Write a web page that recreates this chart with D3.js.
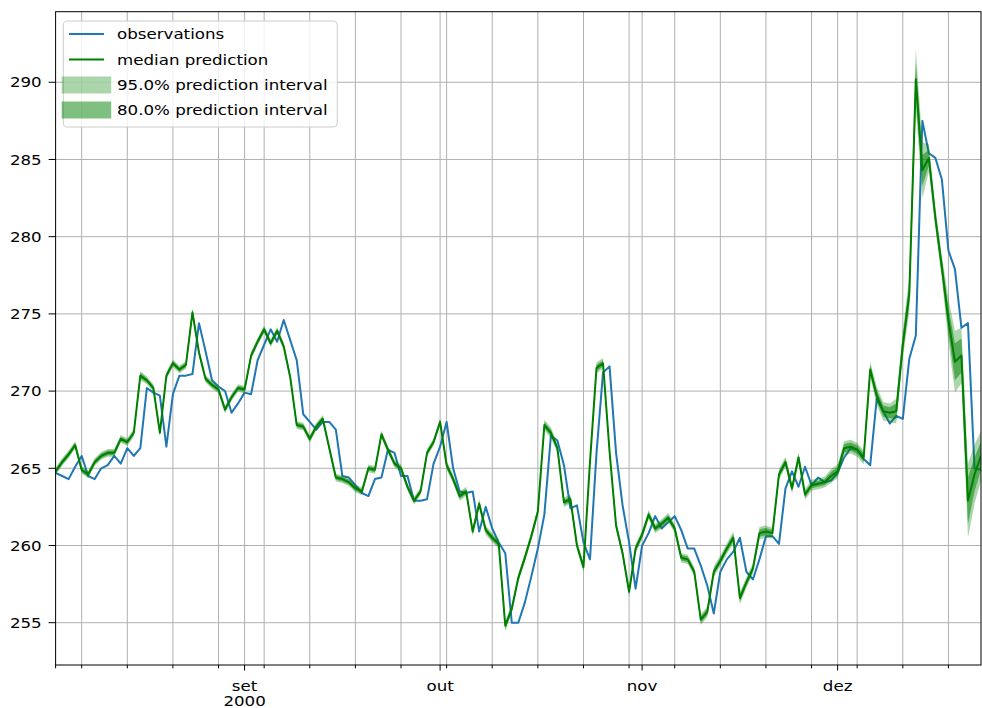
<!DOCTYPE html>
<html><head><meta charset="utf-8">
<script src="https://cdn.jsdelivr.net/npm/d3@7"></script>
<style>body{margin:0;background:#fff}svg{display:block}text{font-family:"DejaVu Sans",sans-serif;fill:#000}</style>
</head><body>
<svg id="chart" width="982" height="708"></svg>
<script>
// ---------------- data ----------------
const startDate = "2000-08-03";
const endDate = "2000-12-23";
const observations = [
 264.7,264.5,264.3,265.1,265.8,264.5,264.3,265.0,265.2,265.8,
 265.3,266.3,265.8,266.3,270.2,269.9,269.7,266.4,269.8,271.0,
 271.0,271.1,274.4,272.6,270.7,270.3,270.0,268.6,269.2,269.9,
 269.8,272.0,273.0,274.0,273.2,274.6,273.3,272.0,268.5,268.0,
 267.5,268.0,268.0,267.5,264.5,264.4,263.9,263.4,263.2,264.3,
 264.4,266.2,266.0,264.5,264.5,262.9,262.9,263.0,265.3,266.4,
 268.0,265.0,263.5,263.4,263.5,260.9,262.5,261.1,260.2,259.5,
 255.0,255.0,256.3,258.0,259.8,262.0,267.1,266.8,265.2,262.4,
 262.6,260.2,259.1,266.0,271.2,271.6,266.0,262.6,260.2,257.2,
 260.0,260.8,261.9,261.1,261.5,261.9,261.0,259.8,259.8,258.7,
 257.4,255.6,258.3,259.1,259.6,260.5,258.3,257.8,259.1,260.6,
 260.6,260.1,263.7,264.8,263.8,265.1,263.9,264.4,264.1,264.2,
 264.7,265.7,266.3,266.2,265.6,265.2,269.5,268.7,267.9,268.4,
 268.2,272.1,273.6,287.5,285.4,285.1,283.7,279.1,277.9,274.1,
 274.4,265.0,264.9
];
const medianPrediction = [
 264.8,265.4,265.9,266.5,264.9,264.6,265.4,265.8,266.0,266.0,
 266.9,266.7,267.3,271.0,270.7,270.2,267.3,271.0,271.8,271.4,
 271.7,275.1,272.5,270.8,270.4,270.1,268.8,269.6,270.2,270.1,
 272.3,273.2,274.0,273.1,273.9,272.9,270.9,267.8,267.7,266.9,
 267.7,268.2,266.3,264.4,264.3,264.1,263.7,263.5,265.0,264.9,
 267.2,266.2,265.3,265.0,263.8,262.9,263.5,266.0,266.7,268.0,
 265.2,264.3,263.2,263.5,260.9,262.7,261.0,260.5,260.1,254.8,
 255.9,257.9,259.2,260.6,262.2,267.8,267.3,266.3,262.8,263.0,
 260.0,258.6,265.4,271.5,271.8,266.1,261.3,259.5,257.0,259.8,
 260.7,262.0,261.1,261.4,261.8,261.1,259.2,259.1,258.3,255.2,
 255.7,258.3,259.0,259.8,260.5,256.6,257.6,258.5,260.8,260.9,
 260.8,264.6,265.4,263.7,265.7,263.3,263.9,264.0,264.1,264.5,
 264.8,266.3,266.4,266.2,265.7,271.4,269.7,268.7,268.6,268.7,
 273.0,276.3,290.2,284.3,285.1,281.2,278.0,274.6,271.9,272.3,
 262.9,264.6,265.8
];
// half-widths of the prediction intervals around the median
const halfWidth95 = [
 0.25,0.25,0.25,0.25,0.25,0.25,0.25,0.25,0.25,0.25,
 0.25,0.25,0.25,0.3,0.25,0.25,0.25,0.25,0.25,0.25,
 0.25,0.3,0.25,0.25,0.25,0.25,0.25,0.25,0.25,0.25,
 0.25,0.25,0.25,0.25,0.25,0.25,0.25,0.25,0.25,0.25,
 0.25,0.25,0.25,0.25,0.25,0.25,0.25,0.25,0.25,0.25,
 0.25,0.25,0.25,0.25,0.25,0.25,0.25,0.25,0.25,0.25,
 0.3,0.3,0.3,0.3,0.3,0.3,0.3,0.3,0.3,0.35,
 0.3,0.3,0.3,0.3,0.3,0.35,0.35,0.3,0.3,0.3,
 0.3,0.3,0.3,0.35,0.35,0.3,0.3,0.3,0.3,0.3,
 0.3,0.3,0.3,0.3,0.3,0.3,0.3,0.3,0.3,0.35,
 0.35,0.35,0.35,0.35,0.4,0.4,0.35,0.35,0.4,0.4,
 0.35,0.35,0.35,0.35,0.35,0.35,0.35,0.35,0.35,0.45,
 0.45,0.45,0.45,0.45,0.45,0.5,0.6,0.6,0.6,0.8,
 0.9,1.2,2.0,1.8,0.9,0.7,0.8,1.4,2.0,1.8,
 2.4,1.9,1.6
];
const halfWidth80 = [
 0.15,0.15,0.15,0.15,0.15,0.15,0.15,0.15,0.15,0.15,
 0.15,0.15,0.15,0.18,0.15,0.15,0.15,0.15,0.15,0.15,
 0.15,0.18,0.15,0.15,0.15,0.15,0.15,0.15,0.15,0.15,
 0.15,0.15,0.15,0.15,0.15,0.15,0.15,0.15,0.15,0.15,
 0.15,0.15,0.15,0.15,0.15,0.15,0.15,0.15,0.15,0.15,
 0.15,0.15,0.15,0.15,0.15,0.15,0.15,0.15,0.15,0.15,
 0.18,0.18,0.18,0.18,0.18,0.18,0.18,0.18,0.18,0.2,
 0.18,0.18,0.18,0.18,0.18,0.2,0.2,0.18,0.18,0.18,
 0.18,0.18,0.18,0.2,0.2,0.18,0.18,0.18,0.18,0.18,
 0.18,0.18,0.18,0.18,0.18,0.18,0.18,0.18,0.18,0.2,
 0.2,0.2,0.2,0.2,0.24,0.24,0.2,0.2,0.24,0.24,
 0.2,0.2,0.2,0.2,0.2,0.2,0.2,0.2,0.2,0.27,
 0.27,0.27,0.27,0.27,0.27,0.3,0.36,0.36,0.36,0.5,
 0.55,0.7,1.1,1.0,0.5,0.4,0.5,0.8,1.2,1.1,
 1.5,1.1,0.9
];
const yTickValues = [255, 260, 265, 270, 275, 280, 285, 290];
const monthTickDates = ["2000-09-01", "2000-10-01", "2000-11-01", "2000-12-01"];
const monthTickLabels = ["set", "out", "nov", "dez"];
const yearLabel = "2000";
const legendLabels = ["observations", "median prediction", "95.0% prediction interval", "80.0% prediction interval"];

// ---------------- layout ----------------
const L = 55.6, R = 981, T = 11.7, B = 665;
const SX = 1.15;           // horizontal stretch of the reference's text
const FS = 14.5;
const blue = "#1f77b4", green = "#008000", gridCol = "#b0b0b0";

const svg = d3.select("#chart");
const parse = d3.utcParse("%Y-%m-%d");
const d0 = parse(startDate), d1 = parse(endDate);
const dates = d3.utcDay.range(d0, d3.utcDay.offset(d1, 1));

const x = d3.scaleUtc().domain([d0, d1]).range([L, R]);
const y = d3.scaleLinear().domain([252.26, 294.57]).range([B, T]);

function stext(g, px, py, str, anchor, dy) {
  return g.append("text")
    .attr("transform", `translate(${px},${py}) scale(${SX},1)`)
    .attr("text-anchor", anchor).attr("dy", dy)
    .style("font-size", FS + "px").text(str);
}

// grid
const monthDates = monthTickDates.map(parse);
const weekDates = d3.utcMonday.range(d0, d3.utcDay.offset(d1, 1));
const grid = svg.append("g");
[...weekDates, ...monthDates].forEach(d => {
  grid.append("line").attr("x1", x(d)).attr("x2", x(d)).attr("y1", T).attr("y2", B)
    .attr("stroke", gridCol).attr("stroke-width", 1);
});
yTickValues.forEach(v => {
  grid.append("line").attr("x1", L).attr("x2", R).attr("y1", y(v)).attr("y2", y(v))
    .attr("stroke", gridCol).attr("stroke-width", 1);
});

// data
const rows = dates.map((d, i) => ({
  d, obs: observations[i], med: medianPrediction[i],
  w95: halfWidth95[i], w80: halfWidth80[i]
}));
svg.append("clipPath").attr("id", "plotclip").append("rect")
  .attr("x", L).attr("y", T).attr("width", R - L).attr("height", B - T);
const plot = svg.append("g").attr("clip-path", "url(#plotclip)");

plot.append("path").datum(rows)
  .attr("d", d3.line().x(r => x(r.d)).y(r => y(r.obs)))
  .attr("fill", "none").attr("stroke", blue).attr("stroke-width", 2).attr("stroke-linejoin", "round");
plot.append("path").datum(rows)
  .attr("d", d3.line().x(r => x(r.d)).y(r => y(r.med)))
  .attr("fill", "none").attr("stroke", green).attr("stroke-width", 2).attr("stroke-linejoin", "round");
plot.append("path").datum(rows)
  .attr("d", d3.area().x(r => x(r.d)).y0(r => y(r.med - r.w95)).y1(r => y(r.med + r.w95)))
  .attr("fill", green).attr("fill-opacity", 0.331);
plot.append("path").datum(rows)
  .attr("d", d3.area().x(r => x(r.d)).y0(r => y(r.med - r.w80)).y1(r => y(r.med + r.w80)))
  .attr("fill", green).attr("fill-opacity", 0.501);

// spines
svg.append("rect").attr("x", L).attr("y", T).attr("width", R - L).attr("height", B - T)
  .attr("fill", "none").attr("stroke", "#000").attr("stroke-width", 1);

// y axis
const yAxisG = svg.append("g");
yTickValues.forEach(v => {
  yAxisG.append("line").attr("x1", L - 7).attr("x2", L).attr("y1", y(v)).attr("y2", y(v))
    .attr("stroke", "#000").attr("stroke-width", 1);
  stext(yAxisG, 41.7, y(v), String(v), "end", "0.36em");
});

// x axis
const xAxisG = svg.append("g");
[d0, ...weekDates].forEach(d => {
  xAxisG.append("line").attr("x1", x(d)).attr("x2", x(d)).attr("y1", B).attr("y2", B + 3.3)
    .attr("stroke", "#000").attr("stroke-width", 1);
});
monthDates.forEach((d, i) => {
  xAxisG.append("line").attr("x1", x(d)).attr("x2", x(d)).attr("y1", B).attr("y2", B + 5.5)
    .attr("stroke", "#000").attr("stroke-width", 1);
  stext(xAxisG, x(d), 690.7, monthTickLabels[i], "middle", "0");
});
stext(xAxisG, x(monthDates[0]), 705.5, yearLabel, "middle", "0");

// legend
const lg = svg.append("g");
lg.append("rect").attr("x", 63.3).attr("y", 21).attr("width", 274).attr("height", 106)
  .attr("rx", 4).attr("fill", "#fff").attr("fill-opacity", 0.8)
  .attr("stroke", "#cccccc").attr("stroke-width", 1);
const rowY = [34, 59.5, 85, 110];
lg.append("line").attr("x1", 69).attr("x2", 104).attr("y1", rowY[0]).attr("y2", rowY[0])
  .attr("stroke", blue).attr("stroke-width", 2);
lg.append("line").attr("x1", 69).attr("x2", 104).attr("y1", rowY[1]).attr("y2", rowY[1])
  .attr("stroke", green).attr("stroke-width", 2);
lg.append("rect").attr("x", 61.7).attr("y", rowY[2] - 8.5).attr("width", 49.5).attr("height", 17)
  .attr("fill", green).attr("fill-opacity", 0.331);
lg.append("rect").attr("x", 61.7).attr("y", rowY[3] - 8.5).attr("width", 49.5).attr("height", 17)
  .attr("fill", green).attr("fill-opacity", 0.501);
legendLabels.forEach((t, i) => stext(lg, 117, rowY[i], t, "start", "0.36em"));
</script>
</body></html>
